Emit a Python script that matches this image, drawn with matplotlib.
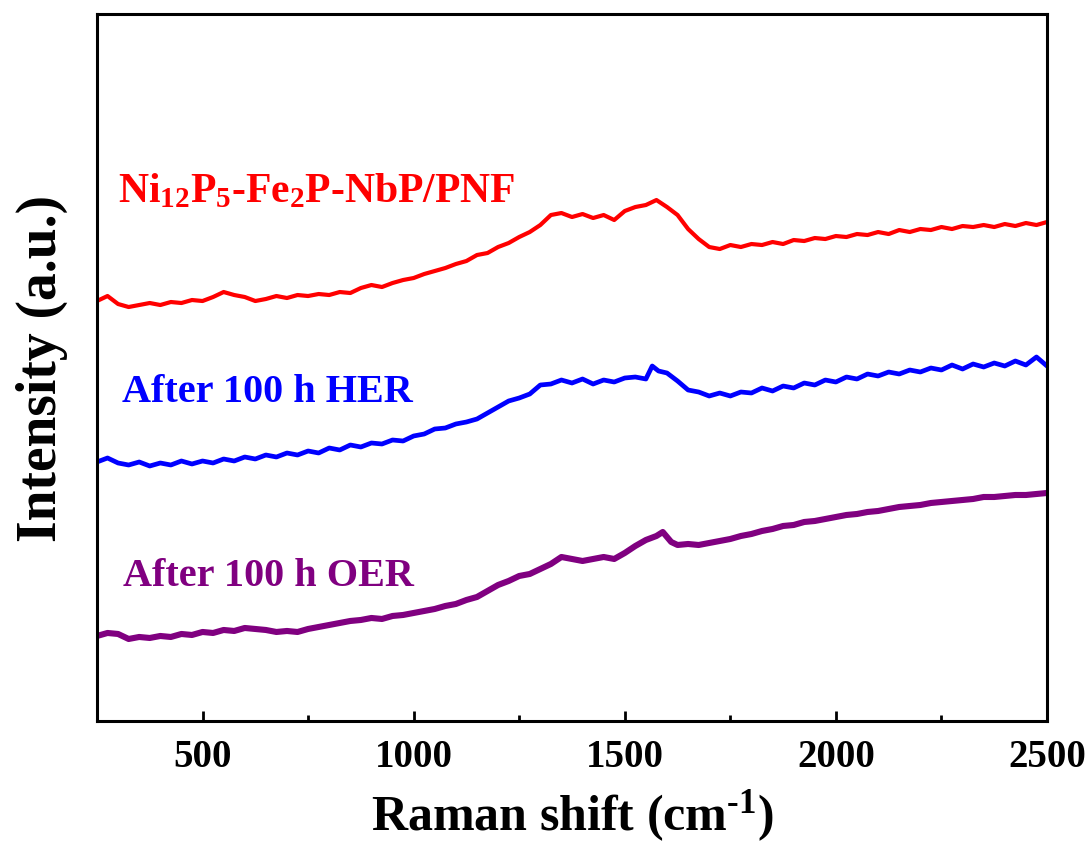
import matplotlib
matplotlib.use("Agg")
import matplotlib.pyplot as plt
from matplotlib.ticker import MultipleLocator, NullLocator

plt.rcParams["font.family"] = "Liberation Serif"
plt.rcParams["font.weight"] = "bold"
plt.rcParams["mathtext.fontset"] = "custom"
plt.rcParams["mathtext.rm"] = "Liberation Serif:bold"
plt.rcParams["mathtext.it"] = "Liberation Serif:bold"
plt.rcParams["mathtext.bf"] = "Liberation Serif:bold"

# Raman shift (cm-1) and intensity (a.u.)
shift_red = [250, 275, 300, 325, 350, 375, 400, 425, 450, 475, 500, 525, 550, 575, 600,
             625, 650, 675, 700, 725, 750, 775, 800, 825, 850, 875, 900, 925, 950, 975,
             1000, 1025, 1050, 1075, 1100, 1125, 1150, 1175, 1200, 1225, 1250, 1275, 1300,
             1325, 1350, 1375, 1400, 1425, 1450, 1475, 1500, 1525, 1550, 1575, 1600, 1625,
             1650, 1675, 1700, 1725, 1750, 1775, 1800, 1825, 1850, 1875, 1900, 1925, 1950,
             1975, 2000, 2025, 2050, 2075, 2100, 2125, 2150, 2175, 2200, 2225, 2250, 2275,
             2300, 2325, 2350, 2375, 2400, 2425, 2450, 2475, 2500]
int_red = [420, 425, 417, 414, 416, 418, 416, 419, 418, 421, 420, 424, 429, 426, 424,
           420, 422, 425, 423, 426, 425, 427, 426, 429, 428, 433, 436, 434, 438, 441,
           443, 447, 450, 453, 457, 460, 466, 468, 474, 478, 484, 489, 496,
           506, 508, 504, 507, 503, 506, 501, 510, 514, 516, 521, 514, 506,
           492, 482, 474, 472, 476, 474, 477, 476, 479, 477, 481, 480, 483,
           482, 485, 484, 487, 486, 489, 487, 491, 489, 492, 491, 494, 492,
           495, 494, 496, 494, 497, 495, 498, 496, 499]

shift_blue = [250, 275, 300, 325, 350, 375, 400, 425, 450, 475, 500, 525, 550, 575, 600,
              625, 650, 675, 700, 725, 750, 775, 800, 825, 850, 875, 900, 925, 950, 975,
              1000, 1025, 1050, 1075, 1100, 1125, 1150, 1175, 1200, 1225, 1250, 1275, 1300,
              1325, 1350, 1375, 1400, 1425, 1450, 1475, 1500, 1525, 1550, 1565, 1580, 1600,
              1625, 1650, 1675, 1700, 1725, 1750, 1775, 1800, 1825, 1850, 1875, 1900, 1925,
              1950, 1975, 2000, 2025, 2050, 2075, 2100, 2125, 2150, 2175, 2200, 2225, 2250,
              2275, 2300, 2325, 2350, 2375, 2400, 2425, 2450, 2475, 2500]
int_blue = [259, 263, 258, 256, 259, 255, 258, 256, 260, 257, 260, 258, 262, 260, 264,
            262, 266, 264, 268, 266, 270, 268, 273, 271, 276, 274, 278, 277, 281, 280,
            285, 287, 292, 293, 297, 299, 302, 308, 314, 320, 323, 327, 336,
            337, 341, 338, 342, 337, 341, 339, 343, 344, 342, 355, 350, 348,
            340, 331, 329, 325, 328, 325, 329, 328, 333, 330, 335, 333, 338,
            336, 341, 339, 344, 342, 347, 345, 349, 347, 351, 349, 353, 351,
            356, 352, 357, 354, 358, 355, 360, 356, 364, 355]

shift_purple = [250, 275, 300, 325, 350, 375, 400, 425, 450, 475, 500, 525, 550, 575, 600,
                625, 650, 675, 700, 725, 750, 775, 800, 825, 850, 875, 900, 925, 950, 975,
                1000, 1025, 1050, 1075, 1100, 1125, 1150, 1175, 1200, 1225, 1250, 1275, 1300,
                1325, 1350, 1375, 1400, 1425, 1450, 1475, 1500, 1525, 1550, 1575, 1590, 1610,
                1625, 1650, 1675, 1700, 1725, 1750, 1775, 1800, 1825, 1850, 1875, 1900, 1925,
                1950, 1975, 2000, 2025, 2050, 2075, 2100, 2125, 2150, 2175, 2200, 2225, 2250,
                2275, 2300, 2325, 2350, 2375, 2400, 2425, 2450, 2475, 2500]
int_purple = [85, 88, 87, 82, 84, 83, 85, 84, 87, 86, 89, 88, 91, 90, 93,
              92, 91, 89, 90, 89, 92, 94, 96, 98, 100, 101, 103, 102, 105, 106,
              108, 110, 112, 115, 117, 121, 124, 130, 136, 140, 145, 147, 152,
              157, 164, 162, 160, 162, 164, 162, 168, 175, 181, 185, 189, 179,
              176, 177, 176, 178, 180, 182, 185, 187, 190, 192, 195, 196, 199,
              200, 202, 204, 206, 207, 209, 210, 212, 214, 215, 216, 218, 219,
              220, 221, 222, 224, 224, 225, 226, 226, 227, 228]

series_colors = ["#ff0000", "#0000ff", "#800080"]
series_names = [r"$\mathrm{Ni_{12}P_{5}}$-$\mathrm{Fe_{2}}$P-NbP/PNF",
                "After 100 h HER", "After 100 h OER"]

fig = plt.figure(figsize=(10.92, 8.45), dpi=100)
ax = fig.add_axes([0.0888, 0.1456, 0.8700, 0.8366])

ax.plot(shift_red, int_red, color=series_colors[0], lw=3.0)
ax.plot(shift_blue, int_blue, color=series_colors[1], lw=3.4)
ax.plot(shift_purple, int_purple, color=series_colors[2], lw=4.4)

ax.set_xlim(250, 2500)
ax.set_ylim(0, 707)

ax.text(0.022, 0.750, series_names[0], transform=ax.transAxes, color=series_colors[0],
        fontsize=30, fontweight="bold", va="center", ha="left")
ax.text(0.026, 0.466, series_names[1], transform=ax.transAxes, color=series_colors[1],
        fontsize=29, fontweight="bold", va="center", ha="left")
ax.text(0.027, 0.206, series_names[2], transform=ax.transAxes, color=series_colors[2],
        fontsize=29, fontweight="bold", va="center", ha="left")

ax.xaxis.set_major_locator(MultipleLocator(500))
ax.xaxis.set_minor_locator(MultipleLocator(250))
ax.yaxis.set_major_locator(NullLocator())
ax.tick_params(axis="x", which="major", direction="in", length=7, width=2,
               labelsize=28, pad=12)
ax.tick_params(axis="x", which="minor", direction="in", length=4, width=2)
for lab in ax.get_xticklabels():
    lab.set_fontweight("bold")
for sp in ax.spines.values():
    sp.set_linewidth(2.2)

ax.set_xlabel(r"Raman shift (cm$^{\text{-1}}$)", fontsize=36, fontweight="bold", labelpad=9)
ax.set_ylabel("Intensity (a.u.)", fontsize=40, fontweight="bold", labelpad=21)

fig.savefig("out.png", dpi=100)
